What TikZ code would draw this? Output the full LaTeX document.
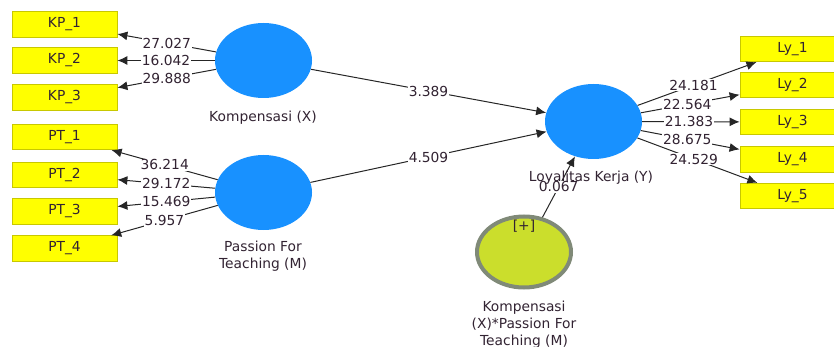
\documentclass[tikz,border=0pt]{standalone}
\usepackage{fontspec}
\setmainfont{DejaVu Sans}
\usetikzlibrary{arrows.meta,shapes.geometric}
\definecolor{indfill}{RGB}{255,255,0}
\definecolor{inddraw}{RGB}{200,200,0}
\definecolor{latblue}{RGB}{24,145,255}
\definecolor{modfill}{RGB}{203,222,44}
\definecolor{modring}{RGB}{128,138,120}
\definecolor{txt}{RGB}{50,35,50}
\tikzset{
  indicator/.style={draw=inddraw, fill=indfill, line width=0.8pt, minimum width=105pt,
    minimum height=25.5pt, inner sep=0pt, text=txt},
  latent/.style={ellipse, fill=latblue, minimum width=97pt, minimum height=75pt, inner sep=0pt},
  moderator/.style={ellipse, fill=modfill, draw=modring, line width=4pt,
    minimum width=94pt, minimum height=71pt, inner sep=0pt},
  loading/.style={draw=black!85, line width=1pt, -{Latex[length=10pt,width=9pt]}},
  coef/.style={fill=white, inner sep=1pt, text=txt},
  latname/.style={text=txt, align=center},
}
\begin{document}
\begin{tikzpicture}[x=1pt, y=-1pt, font=\fontsize{13.8}{17}\selectfont]
  \useasboundingbox (0,0) rectangle (834,347);
  % Indicators, left side
  \node[indicator] (kp1) at (64.5, 24.5) {KP\_1};
  \node[indicator] (kp2) at (64.5, 60.5) {KP\_2};
  \node[indicator] (kp3) at (64.5, 97.5) {KP\_3};
  \node[indicator] (pt1) at (64.5, 137) {PT\_1};
  \node[indicator] (pt2) at (64.5, 175) {PT\_2};
  \node[indicator] (pt3) at (64.5, 211.5) {PT\_3};
  \node[indicator] (pt4) at (64.5, 248.5) {PT\_4};

  % Indicators, right side
  \node[indicator] (ly1) at (792.5, 49) {Ly\_1};
  \node[indicator] (ly2) at (792.5, 85) {Ly\_2};
  \node[indicator] (ly3) at (792.5, 122) {Ly\_3};
  \node[indicator] (ly4) at (792.5, 159.5) {Ly\_4};
  \node[indicator] (ly5) at (792.5, 196) {Ly\_5};

  % Latent variables
  \node[latent] (komp) at (263.5, 60.5) {};
  \node[latent] (pass) at (263.5, 192.5) {};
  \node[latent] (loya) at (593.5, 121.5) {};
  \node[moderator] (inter) at (524, 252) {};
  \node[text=txt] (plus) at (524, 226) {[+]};

  % Outer loadings
  \draw[loading] (komp) -- node[coef] {27.027} (kp1);
  \draw[loading] (komp) -- node[coef] {16.042} (kp2);
  \draw[loading] (komp) -- node[coef] {29.888} (kp3);
  \draw[loading] (pass) -- node[coef] {36.214} (pt1);
  \draw[loading] (pass) -- node[coef] {29.172} (pt2);
  \draw[loading] (pass) -- node[coef] {15.469} (pt3);
  \draw[loading] (pass) -- node[coef] {5.957} (pt4);
  \draw[loading] (loya) -- node[coef, pos=0.47] {24.181} (ly1);
  \draw[loading] (loya) -- node[coef, pos=0.47] {22.564} (ly2);
  \draw[loading] (loya) -- node[coef, pos=0.48] {21.383} (ly3);
  \draw[loading] (loya) -- node[coef, pos=0.47] {28.675} (ly4);
  \draw[loading] (loya) -- node[coef, pos=0.47] {24.529} (ly5);

  % Paths
  \draw[loading] (komp) -- node[coef] {3.389} (loya);
  \draw[loading] (pass) -- node[coef] {4.509} (loya);
  \draw[loading] (inter) -- node[coef] {0.067} (loya);

  % Names
  \node[latname] (kompname) at (263, 118) {Kompensasi (X)};
  \node[latname] (passname) at (263, 256.5) {Passion For\\Teaching (M)};
  \node[latname] (loyaname) at (591, 178) {Loyalitas Kerja (Y)};
  \node[latname] (intername) at (524, 325) {Kompensasi\\(X)*Passion For\\Teaching (M)};
\end{tikzpicture}
\end{document}
